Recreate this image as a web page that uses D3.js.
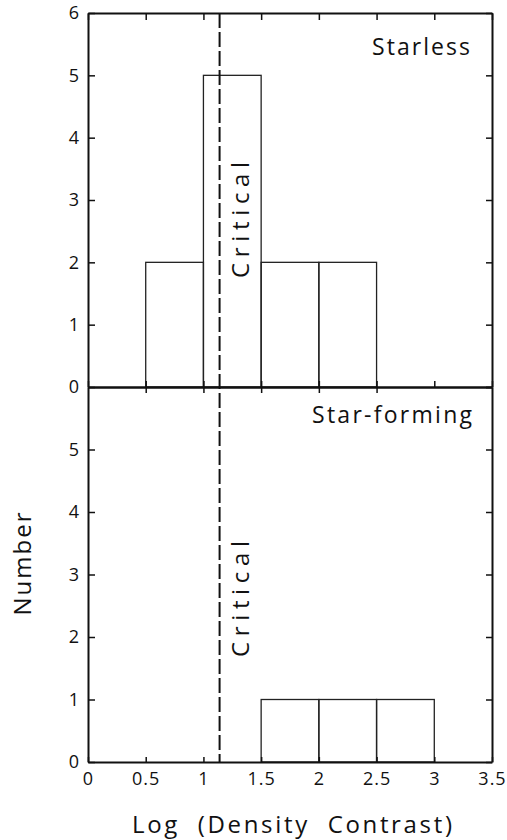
<!DOCTYPE html>
<html>
<head>
<meta charset="utf-8">
<script src="https://cdn.jsdelivr.net/npm/d3@7"></script>
<style>
  html, body { margin: 0; padding: 0; background: #fff; }
  svg { display: block; }
  text { font-family: "Open Sans", "DejaVu Sans", sans-serif; fill: #111; }
</style>
</head>
<body>
<svg id="chart" width="507" height="840"></svg>
<script>
// ---- data ----
const binEdges = [0, 0.5, 1, 1.5, 2, 2.5, 3, 3.5];
const starlessCounts = [0, 2, 5, 2, 2, 0, 0];
const starFormingCounts = [0, 0, 0, 1, 1, 1, 0];
const criticalValue = 1.14;
const xTicks = [0, 0.5, 1, 1.5, 2, 2.5, 3, 3.5];
const xTickLabels = ["0", "0.5", "1", "1.5", "2", "2.5", "3", "3.5"];
const yTicksTop = [0, 1, 2, 3, 4, 5, 6];
const yTicksBottom = [0, 1, 2, 3, 4, 5];
const yTicksAll = [0, 1, 2, 3, 4, 5, 6];

(function () {
const svg = d3.select("#chart");
const pLeft = 88, pRight = 492, pTop = 13, pMid = 387, pBottom = 762;

const x = d3.scaleLinear().domain([0, 3.5]).range([pLeft, pRight]);
const yTop = d3.scaleLinear().domain([0, 6]).range([pMid, pTop]);
const yBot = d3.scaleLinear().domain([0, 6]).range([pBottom, pMid]);

function bars(counts, y) {
  const data = counts.map((c, i) => ({ x0: binEdges[i], x1: binEdges[i + 1], c })).filter(d => d.c > 0);
  svg.append("g").selectAll("rect").data(data).join("rect")
    .attr("x", d => x(d.x0))
    .attr("y", d => y(d.c))
    .attr("width", d => x(d.x1) - x(d.x0))
    .attr("height", d => y(0) - y(d.c))
    .attr("fill", "none")
    .attr("stroke", "#222")
    .attr("stroke-width", 1.3);
}
bars(starlessCounts, yTop);
bars(starFormingCounts, yBot);

function styleAxis(g, labels) {
  g.select(".domain").attr("stroke", "#111").attr("stroke-width", 2);
  g.selectAll(".tick line").attr("stroke", "#111").attr("stroke-width", 1.5);
  g.selectAll(".tick text").style("font-size", "18px").attr("fill", "#111").attr("letter-spacing", "1px");
  if (!labels) g.selectAll(".tick text").remove();
}

// top panel axes
styleAxis(svg.append("g").attr("transform", `translate(${pLeft},0)`)
  .call(d3.axisLeft(yTop).tickValues(yTicksTop).tickSize(-7).tickSizeOuter(0).tickPadding(8).tickFormat(d3.format("d"))), true);
styleAxis(svg.append("g").attr("transform", `translate(${pRight},0)`)
  .call(d3.axisLeft(yTop).tickValues(yTicksTop).tickSize(6).tickSizeOuter(0)), false);
styleAxis(svg.append("g").attr("transform", `translate(0,${pTop})`)
  .call(d3.axisTop(x).tickValues(xTicks).tickSize(-7).tickSizeOuter(0)), false);
styleAxis(svg.append("g").attr("transform", `translate(0,${pMid})`)
  .call(d3.axisBottom(x).tickValues(xTicks).tickSize(-6).tickSizeOuter(0)), false);

// bottom panel axes
styleAxis(svg.append("g").attr("transform", `translate(${pLeft},0)`)
  .call(d3.axisLeft(yBot).tickValues(yTicksBottom).tickSize(-7).tickSizeOuter(0).tickPadding(8).tickFormat(d3.format("d"))), true);
styleAxis(svg.append("g").attr("transform", `translate(${pRight},0)`)
  .call(d3.axisLeft(yBot).tickValues(yTicksAll).tickSize(6).tickSizeOuter(0)), false);
styleAxis(svg.append("g").attr("transform", `translate(0,${pMid})`)
  .call(d3.axisTop(x).tickValues(xTicks.slice(1, 6)).tickSize(-6).tickSizeOuter(0)), false);
styleAxis(svg.append("g").attr("transform", `translate(0,${pBottom})`)
  .call(d3.axisBottom(x).tickValues(xTicks).tickSize(-5).tickSizeOuter(0).tickPadding(10)
    .tickFormat((d, i) => xTickLabels[i])), true);

// critical dashed line
svg.append("line")
  .attr("x1", x(criticalValue)).attr("x2", x(criticalValue))
  .attr("y1", pTop).attr("y2", pBottom)
  .attr("stroke", "#111").attr("stroke-width", 2)
  .attr("stroke-dasharray", "15,4");

// Critical labels
function criticalLabel(yStart) {
  svg.append("text")
    .attr("transform", `translate(${x(criticalValue) + 29},${yStart}) rotate(-90)`)
    .attr("textLength", 116).attr("lengthAdjust", "spacing")
    .style("font-size", "24px")
    .text("Critical");
}
criticalLabel(yTop(1.75));
criticalLabel(yBot(1.68));

// panel titles
svg.append("text").attr("x", 470).attr("y", 55).attr("text-anchor", "end")
  .attr("textLength", 98).attr("lengthAdjust", "spacing")
  .style("font-size", "23px").text("Starless");
svg.append("text").attr("x", 472).attr("y", 423).attr("text-anchor", "end")
  .attr("textLength", 160).attr("lengthAdjust", "spacing")
  .style("font-size", "23px").text("Star-forming");

// axis titles
svg.append("text")
  .attr("transform", `translate(31,564) rotate(-90)`)
  .attr("text-anchor", "middle")
  .attr("textLength", 103).attr("lengthAdjust", "spacing")
  .style("font-size", "24px").text("Number");
svg.append("text")
  .attr("x", 132).attr("y", 833)
  .attr("textLength", 320).attr("lengthAdjust", "spacing")
  .style("font-size", "24px").style("white-space", "pre")
  .text("Log  (Density  Contrast)");
})();
</script>
</body>
</html>
